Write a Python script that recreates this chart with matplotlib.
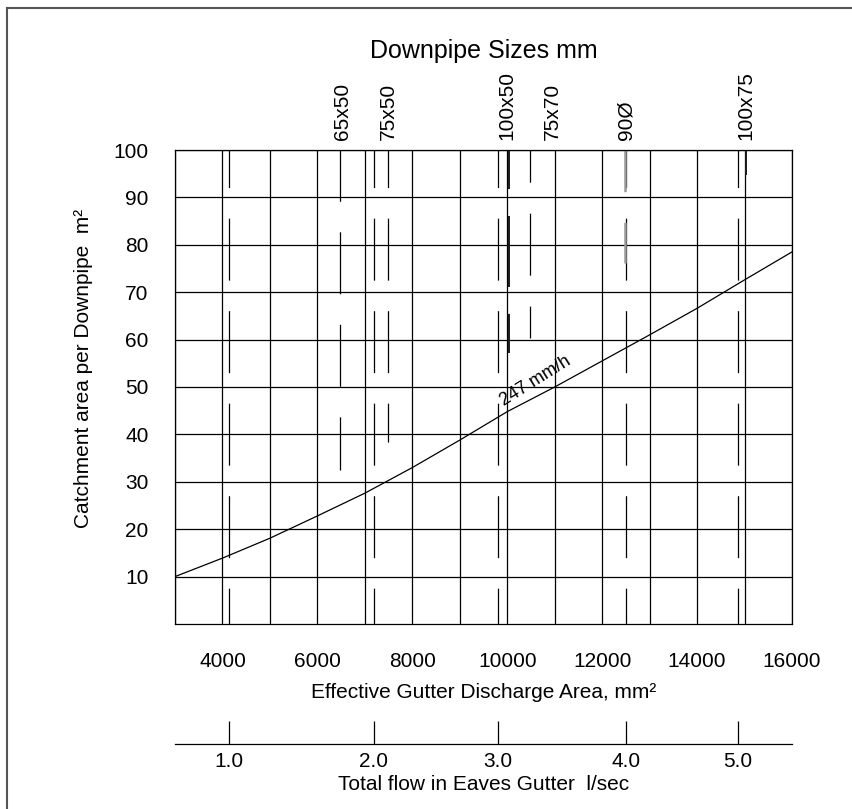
import numpy as np
import matplotlib
matplotlib.use("Agg")
import matplotlib.pyplot as plt
from matplotlib.lines import Line2D

plt.rcParams.update({"font.family": ["Liberation Sans", "DejaVu Sans"], "font.size": 15,
                     "lines.scale_dashes": False, "axes.linewidth": 0.9})

# ═══ Data ═══
area_labels = [4000, 6000, 8000, 10000, 12000, 14000, 16000]
area_grid = list(range(3000, 16001, 1000))
catch_ticks = [10, 20, 30, 40, 50, 60, 70, 80, 90, 100]

# design rainfall intensity curve
curve_name = "247 mm/h"
curve_area = [3000, 4000, 5000, 6000, 7000, 8000, 9000, 10000, 11000, 12000, 13000, 14000, 15000, 16000]
curve_catch = [10.0, 13.9, 18.1, 22.8, 27.6, 33.0, 38.8, 44.8, 50.0, 55.5, 61.0, 66.6, 72.6, 78.5]

# total flow in eaves gutter vs. equivalent discharge area
flow_lps = [1.0, 2.0, 3.0, 4.0, 5.0]
flow_area = [4135, 7183, 9812, 12510, 14866]

# downpipe size limits
pipe_names = ["65x50", "75x50", "100x50", "75x70", "90Ø", "100x75"]
pipe_area = [6480, 7487, 10030, 10487, 12479, 15026]
pipe_label_area = [6530, 7487, 9995, 10957, 12510, 15020]
pipe_lowest = [32.5, 38.5, 57.2, 60.4, 76.1, 94.9]

# ═══ Styles (dash lengths in points) ═══
FLOW_STYLE = dict(color="black", lw=0.9, ls=(17.5, (44.6, 22.0)))
PIPE_STYLE = {
    "65x50": dict(color="black", lw=0.9, ls=(7.7, (44.6, 22.0))),
    "75x50": dict(color="black", lw=0.9, ls=(17.5, (44.6, 22.0))),
    "100x50": dict(color="#1a1a1a", lw=1.4, ls=(23.0, (51.1, 19.4))),
    "75x70": dict(color="black", lw=0.9, ls=(21.4, (44.6, 22.3))),
    "90Ø": dict(color="#9a9a9a", lw=1.8, ls=(0, (30.0, 22.1))),
    "100x75": dict(color="#1a1a1a", lw=1.4, ls="-"),
}

W, H = 853, 809
fig = plt.figure(figsize=(W / 100, H / 100), dpi=100)
L, R, T, B = 175, 792, 150, 624
ax = fig.add_axes([L / W, 1 - B / H, (R - L) / W, (B - T) / H])

ax.set_xlim(3000, 16000); ax.set_ylim(0, 100)
ax.set_xticks(area_labels); ax.set_xticklabels([str(v) for v in area_labels])
ax.set_xticks(area_grid, minor=True)
ax.set_yticks(catch_ticks); ax.set_yticklabels([str(v) for v in catch_ticks])
ax.tick_params(which="both", length=0)
ax.tick_params(axis="x", pad=20)
ax.tick_params(axis="y", pad=19)
ax.grid(True, which="both", color="black", lw=0.9)
ax.set_axisbelow(True)

# flow lines (full height)
for a in flow_area:
    ax.plot([a, a], [100, 0], **FLOW_STYLE)

# downpipe lines from the top down to their limit
for name, a, lo in zip(pipe_names, pipe_area, pipe_lowest):
    ax.plot([a, a], [100, lo], **PIPE_STYLE[name])

for name, a in zip(pipe_names, pipe_label_area):
    ax.annotate(name, xy=(a, 1), xycoords=("data", "axes fraction"), xytext=(0, 7),
                textcoords="offset points", rotation=90, ha="center", va="bottom")

ax.plot(curve_area, curve_catch, color="black", lw=0.9)
ax.text(10650, 50.4, curve_name, rotation=32, rotation_mode="anchor",
        ha="center", va="baseline", fontsize=13)

ax.set_title("Downpipe Sizes mm", pad=66)
ax.set_xlabel("Effective Gutter Discharge Area, mm²", labelpad=9)
ax.set_ylabel("Catchment area per Downpipe  m²")
ax.yaxis.set_label_coords(-0.133, 0.54)

# secondary scale: total flow
ax2 = fig.add_axes([L / W, 1 - 744 / H, (R - L) / W, 0.03])
ax2.set_xlim(3000, 16000)
ax2.set_xticks(flow_area); ax2.set_xticklabels([f"{v:.1f}" for v in flow_lps])
ax2.set_yticks([])
for s in ["top", "left", "right"]:
    ax2.spines[s].set_visible(False)
ax2.patch.set_visible(False)
ax2.tick_params(axis="x", direction="in", length=16.6, width=0.9, pad=5.5)
ax2.set_xlabel("Total flow in Eaves Gutter  l/sec", labelpad=3.5)

# page frame (left and top edges)
x0, y0 = 7.5 / W, 1 - 7.5 / H
fig.add_artist(Line2D([x0, x0], [0, y0], transform=fig.transFigure, color="#555555", lw=1.5))
fig.add_artist(Line2D([x0, 1], [y0, y0], transform=fig.transFigure, color="#555555", lw=1.5))

fig.savefig("out.png", dpi=100)
